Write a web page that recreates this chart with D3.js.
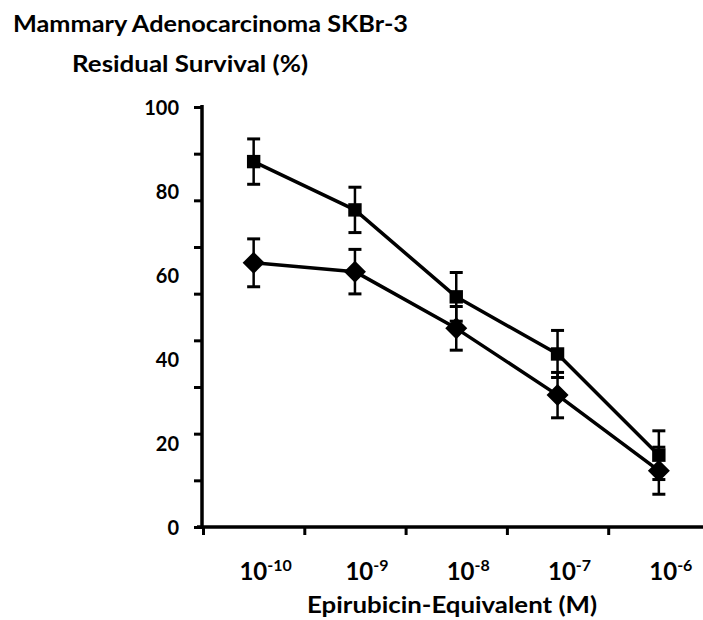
<!DOCTYPE html>
<html>
<head>
<meta charset="utf-8">
<script src="https://cdn.jsdelivr.net/npm/d3@7"></script>
<style>
  html, body { margin: 0; padding: 0; background: #fff; }
  svg { display: block; }
  text { font-family: Lato, "Open Sans", sans-serif; font-weight: bold; fill: #000; }
</style>
</head>
<body>
<svg id="chart" width="703" height="620"></svg>
<script>
// Concentration categories (molar, epirubicin-equivalent)
const concentrations = ["1e-10", "1e-9", "1e-8", "1e-7", "1e-6"];
const exponentLabels = ["-10", "-9", "-8", "-7", "-6"];

// Residual survival (%) with error bars, two formulations
const squareValues  = [87.0, 75.5, 54.8, 41.2, 17.1];
const squareErrors  = [5.4, 5.4, 5.8, 5.6, 5.8];
const diamondValues = [62.9, 60.8, 47.3, 31.4, 13.4];
const diamondErrors = [5.7, 5.3, 5.2, 5.4, 5.6];

// Y-axis labels and the (unlabelled) tick-mark grid
const yTickLabels = [0, 20, 40, 60, 80, 100];
const yTickMarkCount = 10;

const svg = d3.select("#chart");

const x = d3.scaleBand().domain(concentrations).range([203, 709.5]).padding(0);
const xEdge = d3.scaleLinear().domain([0, concentrations.length]).range(x.range());
const y = d3.scaleLinear().domain([0, 100]).range([527, 107]);
const cx = c => x(c) + x.bandwidth() / 2;

// Titles
svg.append("text").attr("x", 13).attr("y", 32)
  .style("font-size", "23.5px").attr("textLength", 395).attr("lengthAdjust", "spacingAndGlyphs")
  .text("Mammary Adenocarcinoma SKBr-3");
svg.append("text").attr("x", 72).attr("y", 72)
  .style("font-size", "23.5px").attr("textLength", 236).attr("lengthAdjust", "spacingAndGlyphs")
  .text("Residual Survival (%)");

// Y axis: tick marks
const yMarks = d3.range(yTickMarkCount).map(i => i * 100 / (yTickMarkCount - 1));
const yAxisG = svg.append("g").attr("transform", "translate(202,0)")
  .call(d3.axisLeft(y).tickValues(yMarks).tickSize(8).tickSizeOuter(0).tickFormat(""));
yAxisG.select(".domain").attr("stroke-width", 3.5).attr("d", `M0,${y(100) - 2}V${y(0)}`);
yAxisG.selectAll(".tick line").attr("stroke-width", 3);

// Y axis: labels
const yLab = svg.append("g").attr("transform", "translate(202,0)")
  .call(d3.axisLeft(y).tickValues(yTickLabels).tickSize(0).tickPadding(23));
yLab.select(".domain").remove();
yLab.selectAll("text").style("font-size", "20px").attr("dy", "0.37em")
  .style("font-family", "Lato, sans-serif").attr("fill", "#000");

// X axis: line with tick marks on the category boundaries
const xAxisG = svg.append("g").attr("transform", "translate(0,527)")
  .call(d3.axisBottom(xEdge).tickValues(d3.range(concentrations.length + 1))
    .tickSize(8).tickSizeOuter(0).tickFormat(""));
xAxisG.select(".domain").attr("stroke-width", 3.5)
  .attr("d", `M${xEdge(0) - 6},0H${xEdge(concentrations.length)}`);
xAxisG.selectAll(".tick line").attr("stroke-width", 3);

// X tick labels: 10 with superscript exponent
const xl = svg.append("g").selectAll("text").data(concentrations).join("text")
  .attr("x", d => cx(d) + 12).attr("y", 580)
  .attr("text-anchor", "middle");
xl.append("tspan").style("font-size", "24px").text("10");
xl.append("tspan").style("font-size", "16px").attr("dy", -9)
  .text((d, i) => exponentLabels[i]);

// X axis title
svg.append("text").attr("x", 307).attr("y", 613)
  .style("font-size", "23px").attr("textLength", 290).attr("lengthAdjust", "spacingAndGlyphs")
  .text("Epirubicin-Equivalent (M)");

// Series
const series = [
  { name: "square", values: squareValues, errors: squareErrors },
  { name: "diamond", values: diamondValues, errors: diamondErrors }
];

const line = d3.line().x((d, i) => cx(concentrations[i])).y(d => y(d));
const plot = svg.append("g");

series.forEach(s => {
  plot.append("path").datum(s.values).attr("d", line)
    .attr("fill", "none").attr("stroke", "#000").attr("stroke-width", 3.5)
    .attr("stroke-linejoin", "round");
});

series.forEach(s => {
  const eg = plot.append("g").selectAll("g").data(s.values).join("g")
    .attr("transform", (d, i) => `translate(${cx(concentrations[i])},0)`);
  eg.append("line").attr("x1", 0).attr("x2", 0)
    .attr("y1", (d, i) => y(d + s.errors[i])).attr("y2", (d, i) => y(d - s.errors[i]))
    .attr("stroke", "#000").attr("stroke-width", 2.5);
  [1, -1].forEach(sign => {
    eg.append("line").attr("x1", -6.5).attr("x2", 6.5)
      .attr("y1", (d, i) => y(d + sign * s.errors[i])).attr("y2", (d, i) => y(d + sign * s.errors[i]))
      .attr("stroke", "#000").attr("stroke-width", 3);
  });
});

series.forEach(s => {
  const mg = plot.append("g").selectAll("path").data(s.values).join("path")
    .attr("transform", (d, i) => `translate(${cx(concentrations[i])},${y(d)})`)
    .attr("fill", "#000");
  if (s.name === "square") {
    mg.attr("d", "M-6.7,-6.7H6.7V6.7H-6.7Z");
  } else {
    mg.attr("d", "M0,-11L11,0L0,11L-11,0Z");
  }
});
</script>
</body>
</html>
